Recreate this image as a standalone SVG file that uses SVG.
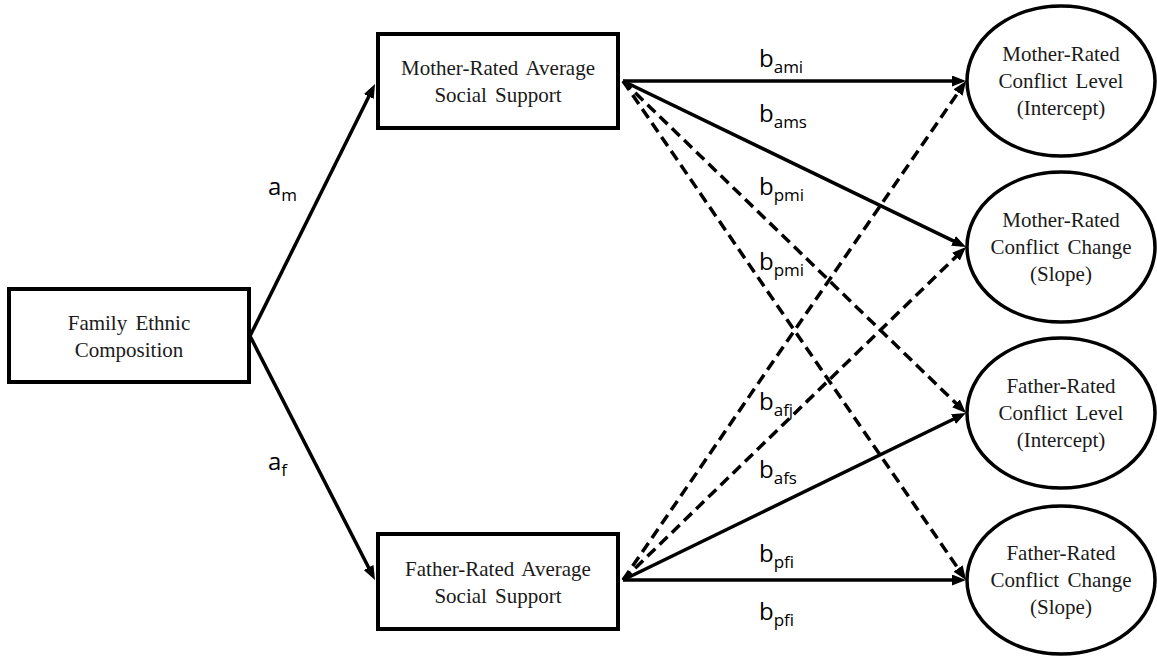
<svg xmlns="http://www.w3.org/2000/svg" width="1157" height="656" viewBox="0 0 1157 656">
<style>
.box{fill:#fff;stroke:#000;stroke-width:4}
.ell{fill:#fff;stroke:#000;stroke-width:3.5}
.nt{font-family:"Liberation Serif","Times New Roman",serif;font-size:21px;fill:#1a1a1a;text-anchor:middle;word-spacing:3px}
.lab{font-family:"Open Sans","Noto Sans",sans-serif;font-size:24px;fill:#000}
.sub{font-size:17px}
.c{stroke:#000;stroke-width:3.5;fill:none}
.d{stroke-dasharray:11 6}
</style>
<defs>
<marker id="ah" viewBox="0 0 14 11" markerWidth="14" markerHeight="11" refX="9" refY="5.5" orient="auto" markerUnits="userSpaceOnUse">
<path d="M0,0 L14,5.5 L0,11 z" fill="#000"/>
</marker>
</defs>
<rect width="1157" height="656" fill="#fff"/>
<g id="connectors">
<line class="c" x1="250" y1="336" x2="372.8" y2="88.5" marker-end="url(#ah)"/>
<line class="c" x1="250" y1="336" x2="372.7" y2="575.5" marker-end="url(#ah)"/>
<line class="c" x1="623" y1="81" x2="961" y2="81" marker-end="url(#ah)"/>
<line class="c" x1="623" y1="81" x2="961.5" y2="244.8" marker-end="url(#ah)"/>
<line class="c d" x1="623" y1="81" x2="962.4" y2="409.5" marker-end="url(#ah)"/>
<line class="c d" x1="623" y1="81" x2="963.2" y2="575.9" marker-end="url(#ah)"/>
<line class="c d" x1="623" y1="580" x2="963.2" y2="85.1" marker-end="url(#ah)"/>
<line class="c d" x1="623" y1="580" x2="962.4" y2="250.5" marker-end="url(#ah)"/>
<line class="c" x1="623" y1="580" x2="961.5" y2="415.2" marker-end="url(#ah)"/>
<line class="c" x1="623" y1="580" x2="961" y2="580" marker-end="url(#ah)"/>
</g>
<g id="labels">
<text class="lab" x="268" y="195">a<tspan class="sub" dy="6">m</tspan></text>
<text class="lab" x="268" y="470">a<tspan class="sub" dy="6">f</tspan></text>
<text class="lab" x="759" y="67">b<tspan class="sub" dy="6">ami</tspan></text>
<text class="lab" x="759" y="122">b<tspan class="sub" dy="6">ams</tspan></text>
<text class="lab" x="759" y="195">b<tspan class="sub" dy="6">pmi</tspan></text>
<text class="lab" x="759" y="270">b<tspan class="sub" dy="6">pmi</tspan></text>
<text class="lab" x="759" y="410">b<tspan class="sub" dy="6">afj</tspan></text>
<text class="lab" x="759" y="478">b<tspan class="sub" dy="6">afs</tspan></text>
<text class="lab" x="759" y="562">b<tspan class="sub" dy="6">pfi</tspan></text>
<text class="lab" x="759" y="620">b<tspan class="sub" dy="6">pfi</tspan></text>
</g>
<g id="family">
<rect class="box" x="9" y="289" width="240" height="93"/>
<text class="nt" x="129" y="330">Family Ethnic</text>
<text class="nt" x="129" y="357">Composition</text>
</g>
<g id="mother-support">
<rect class="box" x="378" y="34" width="240" height="94"/>
<text class="nt" x="498" y="75">Mother-Rated Average</text>
<text class="nt" x="498" y="102">Social Support</text>
</g>
<g id="father-support">
<rect class="box" x="378" y="534" width="240" height="95"/>
<text class="nt" x="498" y="576">Father-Rated Average</text>
<text class="nt" x="498" y="603">Social Support</text>
</g>
<g id="mother-level">
<ellipse class="ell" cx="1061" cy="81" rx="94" ry="75"/>
<text class="nt" x="1061" y="61">Mother-Rated</text>
<text class="nt" x="1061" y="88">Conflict Level</text>
<text class="nt" x="1061" y="115">(Intercept)</text>
</g>
<g id="mother-change">
<ellipse class="ell" cx="1061" cy="247" rx="94" ry="75"/>
<text class="nt" x="1061" y="227">Mother-Rated</text>
<text class="nt" x="1061" y="254">Conflict Change</text>
<text class="nt" x="1061" y="281">(Slope)</text>
</g>
<g id="father-level">
<ellipse class="ell" cx="1061" cy="413" rx="94" ry="75"/>
<text class="nt" x="1061" y="393">Father-Rated</text>
<text class="nt" x="1061" y="420">Conflict Level</text>
<text class="nt" x="1061" y="447">(Intercept)</text>
</g>
<g id="father-change">
<ellipse class="ell" cx="1061" cy="580" rx="94" ry="74"/>
<text class="nt" x="1061" y="560">Father-Rated</text>
<text class="nt" x="1061" y="587">Conflict Change</text>
<text class="nt" x="1061" y="614">(Slope)</text>
</g>
</svg>
